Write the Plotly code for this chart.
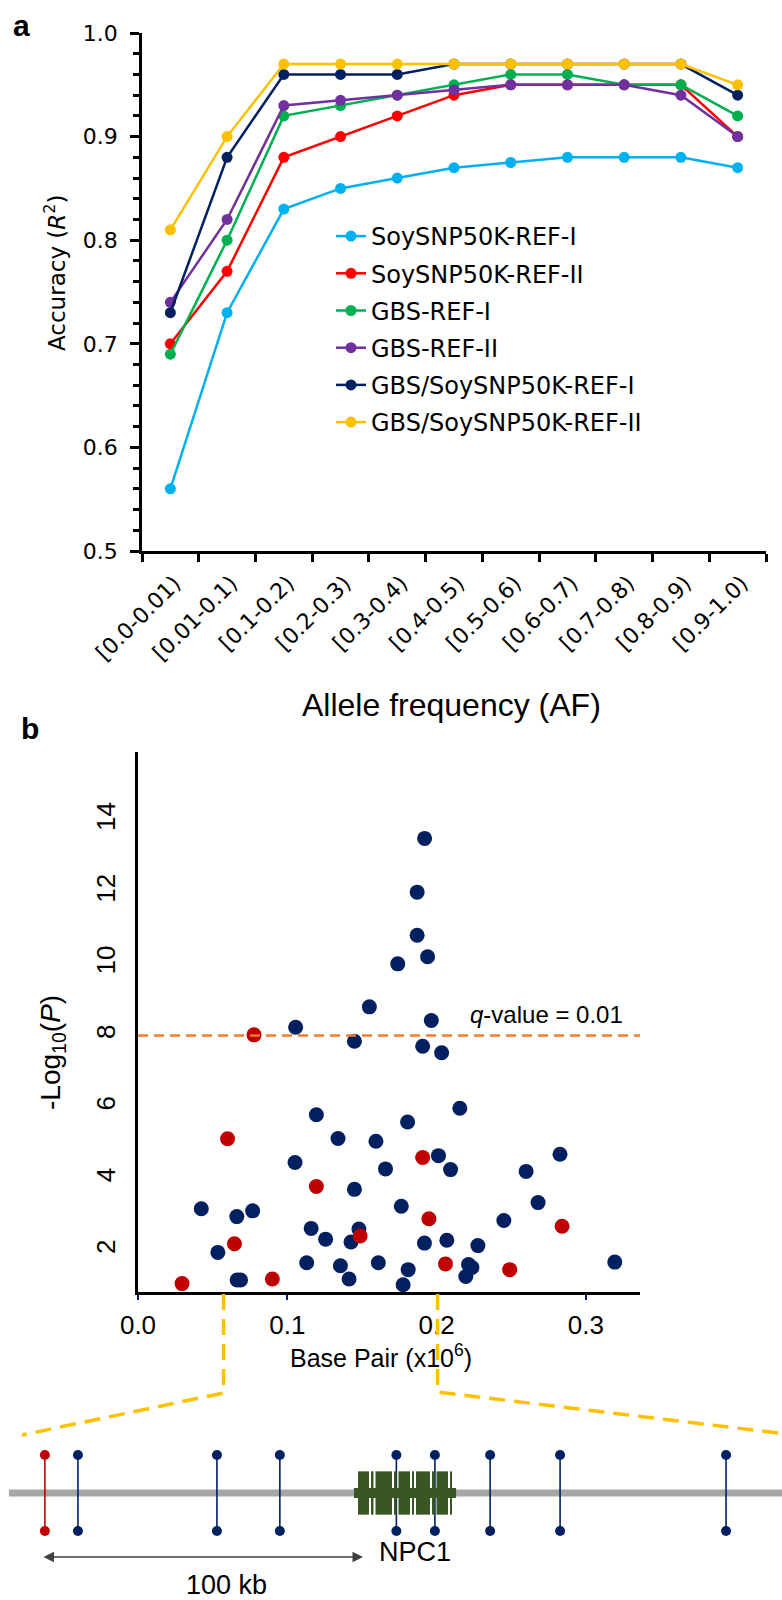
import plotly.graph_objects as go

W, H = 782, 1600

def px_x(p):
    return p / W

def px_y(p):
    return 1 - p / H

# ---------------- Panel a data ----------------
af_bins = ["[0.0-0.01)", "[0.01-0.1)", "[0.1-0.2)", "[0.2-0.3)", "[0.3-0.4)",
           "[0.4-0.5)", "[0.5-0.6)", "[0.6-0.7)", "[0.7-0.8)", "[0.8-0.9)", "[0.9-1.0)"]
soy_ref_i = [0.56, 0.73, 0.83, 0.85, 0.86, 0.87, 0.875, 0.88, 0.88, 0.88, 0.87]
soy_ref_ii = [0.70, 0.77, 0.88, 0.90, 0.92, 0.94, 0.95, 0.95, 0.95, 0.95, 0.90]
gbs_ref_i = [0.69, 0.80, 0.92, 0.93, 0.94, 0.95, 0.96, 0.96, 0.95, 0.95, 0.92]
gbs_ref_ii = [0.74, 0.82, 0.93, 0.935, 0.94, 0.945, 0.95, 0.95, 0.95, 0.94, 0.90]
combo_ref_i = [0.73, 0.88, 0.96, 0.96, 0.96, 0.97, 0.97, 0.97, 0.97, 0.97, 0.94]
combo_ref_ii = [0.81, 0.90, 0.97, 0.97, 0.97, 0.97, 0.97, 0.97, 0.97, 0.97, 0.95]
a_yticks = [0.5, 0.6, 0.7, 0.8, 0.9, 1.0]

series_names = ["SoySNP50K-REF-I", "SoySNP50K-REF-II", "GBS-REF-I", "GBS-REF-II",
                "GBS/SoySNP50K-REF-I", "GBS/SoySNP50K-REF-II"]
series_vals = [soy_ref_i, soy_ref_ii, gbs_ref_i, gbs_ref_ii, combo_ref_i, combo_ref_ii]
series_colors = ["#00B0F0", "#FF0000", "#00B050", "#7030A0", "#002060", "#FFC000"]

# ---------------- Panel b data ----------------
navy_bp = [0.192, 0.187, 0.187, 0.194, 0.174, 0.155,
           0.1056, 0.1965, 0.145, 0.1907, 0.2034,
           0.1195, 0.2156, 0.1806, 0.134, 0.1594,
           0.1052, 0.2013, 0.1658, 0.2094, 0.2827, 0.26,
           0.145, 0.0424, 0.0662, 0.0768, 0.1764, 0.268, 0.2451,
           0.116, 0.148, 0.1257, 0.1427, 0.1919, 0.2069, 0.2277,
           0.0535, 0.113, 0.1356, 0.161, 0.181, 0.2214, 0.2237, 0.2196, 0.3194,
           0.0664, 0.0687, 0.1414, 0.1776]
navy_logp = [13.5, 12.0, 10.8, 10.2, 10.0, 8.8,
             8.23, 8.42, 7.84, 7.70, 7.52,
             5.79, 5.97, 5.59, 5.13, 5.05,
             4.46, 4.65, 4.28, 4.26, 4.69, 4.21,
             3.71, 3.17, 2.95, 3.11, 3.24, 3.34, 2.84,
             2.62, 2.60, 2.32, 2.24, 2.21, 2.29, 2.14,
             1.95, 1.66, 1.58, 1.66, 1.47, 1.61, 1.53, 1.28, 1.68,
             1.18, 1.18, 1.21, 1.05]
red_bp = [0.0777, 0.06, 0.1907, 0.1195, 0.1949, 0.1488, 0.2841, 0.0646, 0.206, 0.249, 0.0295, 0.09]
red_logp = [8.02, 5.12, 4.6, 3.79, 2.89, 2.41, 2.68, 2.19, 1.63, 1.47, 1.08, 1.21]
q_threshold = 8.0
b_xticks = [0.0, 0.1, 0.2, 0.3]
b_yticks = [2, 4, 6, 8, 10, 12, 14]
zoom_region_bp = [0.0573, 0.2007]

# ---------------- Gene diagram data (kb) ----------------
snp_red_kb = [0.9]
snp_navy_kb = [11.2, 54.5, 74.1, 110.4, 122.4, 139.6, 161.4, 213.1]
gene_start_kb, gene_end_kb = 97.2, 129.0
exon_starts_kb = [98.44, 102.49, 103.89, 109.66, 111.06, 115.26, 116.51, 121.50, 122.90, 127.10]
exon_ends_kb = [101.87, 103.27, 109.03, 110.44, 114.64, 115.89, 120.87, 122.27, 126.48, 127.73]
chrom_start_kb, chrom_end_kb = -10.3, 231.0
scale_bar_kb = [0.0, 100.0]

fig = go.Figure()

# ---- panel a traces ----
for name, vals, col in zip(series_names, series_vals, series_colors):
    fig.add_trace(go.Scatter(
        x=af_bins, y=vals, name=name, mode="lines+markers",
        line=dict(color=col, width=2.5),
        marker=dict(color=col, size=11),
        legendgroup=name,
        xaxis="x", yaxis="y", showlegend=True))

# ---- panel b traces ----
fig.add_trace(go.Scatter(
    x=navy_bp, y=navy_logp, mode="markers", xaxis="x2", yaxis="y2",
    marker=dict(color="#002060", size=15, line=dict(width=0)), showlegend=False))
fig.add_trace(go.Scatter(
    x=red_bp, y=red_logp, mode="markers", xaxis="x2", yaxis="y2",
    marker=dict(color="#C00000", size=15, line=dict(width=0)), showlegend=False))

# ---- gene diagram ----
fig.add_trace(go.Scatter(
    x=[chrom_start_kb, chrom_end_kb], y=[0, 0], mode="lines", xaxis="x3", yaxis="y3",
    line=dict(color="#A6A6A6", width=7), showlegend=False, hoverinfo="skip"))

shapes = []
shapes.append(dict(type="rect", xref="x3", yref="y3", x0=gene_start_kb, x1=gene_end_kb,
                   y0=-0.13, y1=0.13, fillcolor="#385723", line=dict(width=0)))
for s, e in zip(exon_starts_kb, exon_ends_kb):
    shapes.append(dict(type="rect", xref="x3", yref="y3", x0=s, x1=e,
                       y0=-0.57, y1=0.57, fillcolor="#385723", line=dict(width=0)))


def lollipops(pos, color):
    xs, ys = [], []
    for p in pos:
        xs += [p, p, None]
        ys += [-1.0, 1.0, None]
    fig.add_trace(go.Scatter(x=xs, y=ys, mode="lines", xaxis="x3", yaxis="y3",
                             line=dict(color=color, width=1.6), showlegend=False,
                             hoverinfo="skip"))
    fig.add_trace(go.Scatter(x=pos + pos, y=[1.0] * len(pos) + [-1.0] * len(pos),
                             mode="markers", xaxis="x3", yaxis="y3",
                             marker=dict(color=color, size=10), showlegend=False))


lollipops(snp_red_kb, "#C00000")
lollipops(snp_navy_kb, "#002060")

# threshold line
shapes.append(dict(type="line", xref="x2 domain", yref="y2", x0=0, x1=1,
                   y0=q_threshold, y1=q_threshold,
                   line=dict(color="#ED7D31", width=2.5, dash="10px,6px")))

# zoom connectors (yellow dashed)
xa2_l, xa2_r = 138.0, 640.0
xr2 = [0.0, 0.3363]


def bp_to_px(v):
    return xa2_l + (v - xr2[0]) / (xr2[1] - xr2[0]) * (xa2_r - xa2_l)


lx = bp_to_px(zoom_region_bp[0])
rx = bp_to_px(zoom_region_bp[1])
shapes.append(dict(type="path", xref="paper", yref="paper",
                   path=f"M {px_x(lx)} {px_y(1294)} L {px_x(lx)} {px_y(1393)} L {px_x(22)} {px_y(1435)}",
                   line=dict(color="#FFC000", width=3.5, dash="16px,9px")))
shapes.append(dict(type="path", xref="paper", yref="paper",
                   path=f"M {px_x(rx)} {px_y(1294)} L {px_x(rx)} {px_y(1392)} L {px_x(778)} {px_y(1433)}",
                   line=dict(color="#FFC000", width=3.5, dash="16px,9px")))

ARIAL = "Liberation Sans, Arial, sans-serif"
DEJA = "DejaVu Sans, Verdana, sans-serif"


def label(text, x, y, size, family=ARIAL, angle=0, xanchor="center", xref="paper",
          yref="paper"):
    return dict(text=text, x=x, y=y, xref=xref, yref=yref, showarrow=False,
                textangle=angle, xanchor=xanchor, yanchor="middle",
                font=dict(family=family, size=size, color="black"))


annotations = [
    label("<b>a</b>", px_x(21), px_y(26), 30),
    label("<b>b</b>", px_x(30), px_y(729), 30),
    label("Accuracy (<i>R</i><sup>2</sup>)", px_x(55), px_y(273), 23, DEJA, -90),
    label("Allele frequency (AF)", px_x(451), px_y(705), 32),
    label("-Log<sub>10</sub>(<i>P</i>)", px_x(52), px_y(1053), 28, ARIAL, -90),
    label("Base Pair (x10<sup>6</sup>)", px_x(381), px_y(1356), 25),
    label("<i>q</i>-value = 0.01", px_x(468), px_y(1014), 24, xanchor="left"),
    label("NPC1", 116.2, -1.553, 27, xref="x3", yref="y3"),
    label("100 kb", 57.6, -2.42, 27, xref="x3", yref="y3"),
    dict(text="", x=scale_bar_kb[1], y=-1.684, ax=scale_bar_kb[0], ay=-1.684,
         xref="x3", yref="y3", axref="x3", ayref="y3", showarrow=True,
         arrowhead=2, arrowside="end+start", arrowsize=1.4, arrowwidth=1.5,
         arrowcolor="#404040"),
]

fig.update_layout(
    template="none",
    width=W, height=H, autosize=False,
    margin=dict(l=0, r=0, t=0, b=0, pad=0),
    paper_bgcolor="white", plot_bgcolor="white",
    showlegend=True,
    legend=dict(x=px_x(331), y=px_y(214), xanchor="left", yanchor="top",
                bgcolor="rgba(0,0,0,0)", font=dict(family=DEJA, size=24, color="black"),
                itemwidth=30, tracegroupgap=3),
    xaxis=dict(domain=[px_x(142), px_x(766)], type="category", anchor="y", automargin=False,
               tickson="boundaries", ticks="outside", ticklen=8, tickwidth=2.5,
               tickcolor="black", showline=True, linecolor="black", linewidth=2.5,
               showgrid=False, zeroline=False, tickangle=-45,
               ticklabelstandoff=8, ticklabelshift=4,
               tickfont=dict(family=DEJA, size=22, color="black"),
               range=[-0.5, 10.5]),
    yaxis=dict(domain=[px_y(551), px_y(33)], range=[0.5, 1.0], anchor="x", automargin=False,
               tickvals=a_yticks, ticktext=[f"{v:.1f}" for v in a_yticks],
               ticks="outside", ticklen=9, tickwidth=2.5, tickcolor="black",
               minor=dict(dtick=0.02, tick0=0.5, ticks="outside", ticklen=6, tickwidth=2.5,
                          tickcolor="black", showgrid=False),
               showline=True, linecolor="black", linewidth=2.5, showgrid=False,
               zeroline=False, ticklabelstandoff=8,
               tickfont=dict(family=DEJA, size=22, color="black")),
    xaxis2=dict(domain=[px_x(xa2_l), px_x(xa2_r)], range=xr2, anchor="y2", automargin=False,
                tickvals=b_xticks, ticktext=[f"{v:.1f}" for v in b_xticks],
                ticks="outside", ticklen=5, tickwidth=2, tickcolor="#002060",
                showline=True, linecolor="black", linewidth=2.5, showgrid=False,
                zeroline=False, ticklabelstandoff=3,
                tickfont=dict(family=ARIAL, size=26, color="black")),
    yaxis2=dict(domain=[px_y(1292), px_y(752)], range=[0.846, 15.91], anchor="x2",
                automargin=False, tickvals=b_yticks, ticks="", tickangle=-90,
                showline=True, linecolor="black", linewidth=2.5, showgrid=False,
                zeroline=False, ticklabelstandoff=10,
                tickfont=dict(family=ARIAL, size=26, color="black")),
    xaxis3=dict(domain=[0, 1], range=[-13.08, 230.53], anchor="y3", visible=False,
                automargin=False),
    yaxis3=dict(domain=[0, px_y(1400)], range=[-2.816, 2.447], anchor="x3", visible=False,
                automargin=False),
    shapes=shapes,
    annotations=annotations,
)

fig.write_html("out.html",
               config={"displayModeBar": False},
               post_script="document.body.style.margin='0';document.body.style.padding='0';")
